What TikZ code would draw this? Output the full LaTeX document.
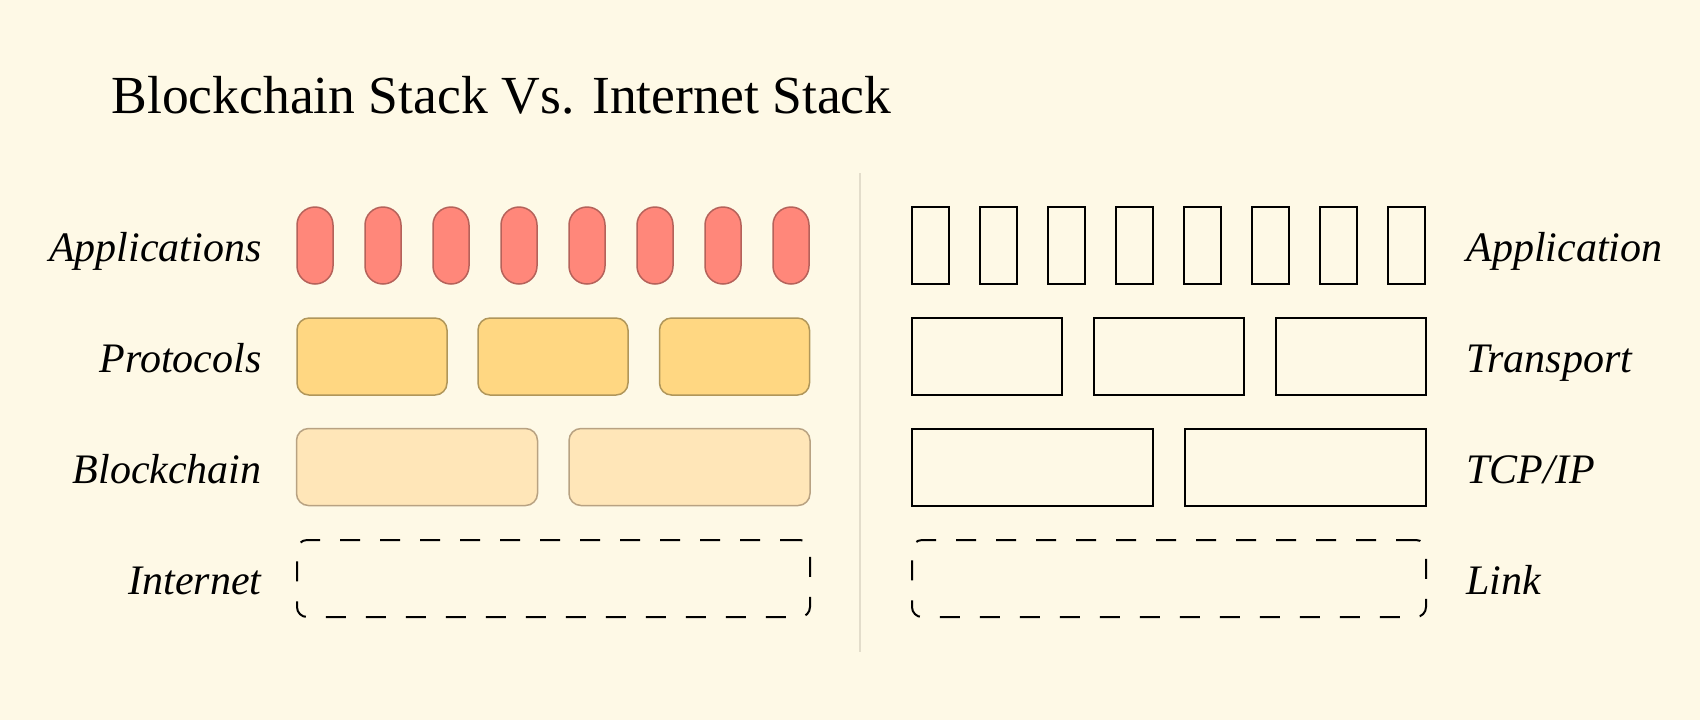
\documentclass[tikz,border=0pt]{standalone}
\usepackage{fontspec}
\setmainfont{Liberation Serif}
\definecolor{bgc}{HTML}{FEF9E6}
\definecolor{pillfill}{HTML}{FF877A}
\definecolor{pillline}{HTML}{B5625A}
\definecolor{protofill}{HTML}{FFD782}
\definecolor{protoline}{HTML}{B0965A}
\definecolor{chainfill}{HTML}{FFE6B8}
\definecolor{chainline}{HTML}{B8A282}
\definecolor{divc}{HTML}{E3DDCB}
\tikzset{
  appbox/.style={draw=pillline, fill=pillfill, line width=0.75pt, rounded corners=9pt, minimum width=18pt, minimum height=38.5pt, inner sep=0pt},
  protobox/.style={draw=protoline, fill=protofill, line width=0.75pt, rounded corners=6pt, minimum width=75pt, minimum height=38.5pt, inner sep=0pt},
  chainbox/.style={draw=chainline, fill=chainfill, line width=0.75pt, rounded corners=6pt, minimum width=120.5pt, minimum height=38.5pt, inner sep=0pt},
  netbox/.style={draw=black, line width=1pt, dash pattern=on 10pt off 10pt, rounded corners=5pt, minimum height=38.5pt, inner sep=0pt},
  plainbox/.style={draw=black, line width=1pt, minimum height=38.5pt, inner sep=0pt},
  leftlabel/.style={anchor=base east, inner sep=0pt, font=\fontsize{21}{24}\selectfont\itshape},
  rightlabel/.style={anchor=base west, inner sep=0pt, font=\fontsize{21}{24}\selectfont\itshape},
  titletext/.style={anchor=base west, inner sep=0pt, font=\fontsize{26.8}{31}\selectfont}
}
\begin{document}
\begin{tikzpicture}[x=0.5pt,y=-0.5pt]
\fill[bgc] (0,0) rectangle (1700,720);
\useasboundingbox (0,0) rectangle (1700,720);
\node[titletext] (title) at (111,113) {Blockchain Stack Vs. Internet Stack};
% divider
\coordinate (dtop) at (860,173);
\coordinate (dbot) at (860,652);
\draw[divc, line width=1pt] (dtop) -- (dbot);
% left labels
\node[leftlabel] (lapp) at (262,261) {Applications};
\node[leftlabel] (lproto) at (262,372) {Protocols};
\node[leftlabel] (lchain) at (262,483) {Blockchain};
\node[leftlabel] (lnet) at (262,594) {Internet};
% right labels
\node[rightlabel] (rapp) at (1466,261) {Application};
\node[rightlabel] (rtrans) at (1466,372) {Transport};
\node[rightlabel] (rtcp) at (1466,483) {TCP/IP};
\node[rightlabel] (rlink) at (1466,594) {Link};
% applications pills
\foreach \i in {0,...,7} {
  \node[appbox] (pill\i) at (315+68*\i,245.5) {};
  \node[plainbox, minimum width=18.5pt] (app\i) at (930.5+68*\i,245.5) {};
}
% protocols
\node[protobox] (proto1) at (372,356.5) {};
\node[protobox] (proto2) at (553,356.5) {};
\node[protobox] (proto3) at (734.5,356.5) {};
\node[plainbox, minimum width=75pt] (trans1) at (987,356.5) {};
\node[plainbox, minimum width=75pt] (trans2) at (1169,356.5) {};
\node[plainbox, minimum width=75pt] (trans3) at (1350.5,356.5) {};
% blockchain
\node[chainbox] (chain1) at (417,467) {};
\node[chainbox] (chain2) at (689.5,467) {};
\node[plainbox, minimum width=120.5pt] (tcp1) at (1032.5,467) {};
\node[plainbox, minimum width=120.5pt] (tcp2) at (1305,467) {};
% internet / link
\node[netbox, minimum width=256.5pt] (net) at (553.5,578.5) {};
\node[netbox, minimum width=257pt] (link) at (1169,578.5) {};
\end{tikzpicture}
\end{document}
